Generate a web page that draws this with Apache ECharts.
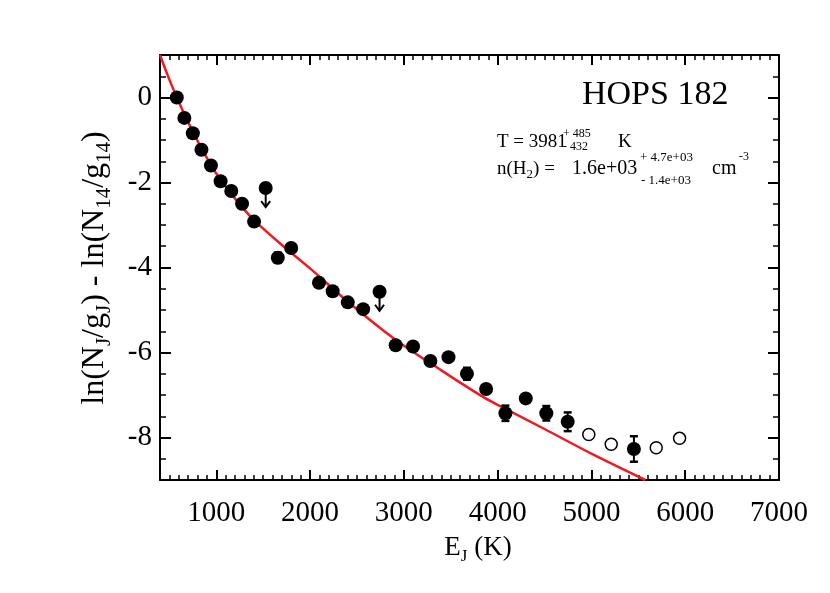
<!DOCTYPE html>
<html>
<head>
<meta charset="utf-8">
<script src="https://cdn.jsdelivr.net/npm/echarts@6/dist/echarts.min.js"></script>
<style>
  html, body { margin: 0; padding: 0; background: #fff; }
  #chart { width: 830px; height: 593px; }
</style>
</head>
<body>
<div id="chart"></div>
<script>
// detections (filled circles), E_J in K
var detE   = [579, 660, 750, 842, 943, 1046, 1160, 1275, 1403, 1656, 1799, 2095, 2241, 2402, 2566, 2913, 3098, 3283, 3476, 3673, 3877, 4083, 4300, 4519, 4747, 5453];
var detY   = [0.00, -0.48, -0.84, -1.23, -1.60, -1.97, -2.20, -2.50, -2.92, -3.77, -3.54, -4.36, -4.56, -4.82, -4.98, -5.83, -5.86, -6.20, -6.11, -6.50, -6.86, -7.43, -7.08, -7.43, -7.63, -8.27];
var detErr = [0.03, 0.03, 0.03, 0.03, 0.03, 0.03, 0.03, 0.03, 0.03, 0.12, 0.04, 0.04, 0.04, 0.04, 0.04, 0.05, 0.09, 0.05, 0.05, 0.14, 0.06, 0.18, 0.06, 0.17, 0.22, 0.30];
// upper limits (circle + down arrow)
var limE = [1527, 2741];
var limY = [-2.13, -4.57];
// open circles
var openE = [4972, 5211, 5691, 5940];
var openY = [-7.93, -8.16, -8.24, -8.02];
// model curve
var fitE = [400, 500, 600, 700, 800, 900, 1000, 1200, 1400, 1700, 2000, 2400, 2900, 3400, 3826, 4000, 4500, 5000, 5575];
var fitY = [1.00, 0.42, -0.10, -0.58, -1.02, -1.42, -1.79, -2.38, -2.88, -3.47, -4.02, -4.80, -5.68, -6.42, -7.02, -7.23, -7.80, -8.38, -9.00];

var xTicks = [1000, 2000, 3000, 4000, 5000, 6000, 7000];
var yTicks = [-8, -6, -4, -2, 0];

var serif = 'Liberation Serif';
var black = '#000';
var red = '#ed1c24';

function zip(a, b, c) {
  return a.map(function (v, i) { return c ? [v, b[i], c[i]] : [v, b[i]]; });
}

function xAx(pos, major) {
  return {
    type: 'value', position: pos, min: 400, max: 7000,
    interval: major ? undefined : 100,
    axisLine: { show: !major, onZero: false, lineStyle: { color: black, width: 2 } },
    axisTick: major
      ? { inside: true, length: 10, customValues: xTicks, lineStyle: { color: black, width: 2 } }
      : { inside: true, length: 5, lineStyle: { color: black, width: 1.5 } },
    axisLabel: (pos === 'bottom' && !major)
      ? { customValues: xTicks, margin: 19, fontFamily: serif, fontSize: 29, color: black,
          formatter: function (v) { return String(v); } }
      : { show: false },
    splitLine: { show: false }
  };
}

function yAx(pos, major) {
  return {
    type: 'value', position: pos, min: -9, max: 1,
    interval: major ? undefined : 0.5,
    axisLine: { show: !major, onZero: false, lineStyle: { color: black, width: 2 } },
    axisTick: major
      ? { inside: true, length: 11, customValues: yTicks, lineStyle: { color: black, width: 2 } }
      : { inside: true, length: 6, lineStyle: { color: black, width: 1.5 } },
    axisLabel: (pos === 'left' && !major)
      ? { customValues: yTicks, margin: 8, fontFamily: serif, fontSize: 29, color: black,
          formatter: function (v) { return String(v); } }
      : { show: false },
    splitLine: { show: false }
  };
}

var chart = echarts.init(document.getElementById('chart'), null, { renderer: 'canvas' });

function label(text, x, baseline, size) {
  return {
    type: 'text', x: x, y: baseline - 0.28 * size,
    style: { text: text, fontFamily: serif, fontSize: size, fill: black, verticalAlign: 'middle' }
  };
}

chart.setOption({
  backgroundColor: '#fff',
  animation: false,
  grid: { left: 160, right: 51, top: 55, bottom: 113 },
  xAxis: [xAx('bottom', false), xAx('bottom', true), xAx('top', false), xAx('top', true)],
  yAxis: [yAx('left', false), yAx('left', true), yAx('right', false), yAx('right', true)],
  series: [
    {
      type: 'line', data: zip(fitE, fitY), smooth: 0.3, showSymbol: false,
      lineStyle: { color: red, width: 2.5 }, z: 2
    },
    {
      type: 'custom', data: zip(detE, detY, detErr), z: 3,
      renderItem: function (params, api) {
        var x = api.value(0), y = api.value(1), e = api.value(2);
        var t = api.coord([x, y + e]), b = api.coord([x, y - e]);
        return { type: 'group', children: [
          { type: 'line', shape: { x1: t[0], y1: t[1], x2: b[0], y2: b[1] }, style: { stroke: black, lineWidth: 2 } },
          { type: 'line', shape: { x1: t[0] - 4, y1: t[1], x2: t[0] + 4, y2: t[1] }, style: { stroke: black, lineWidth: 2.5 } },
          { type: 'line', shape: { x1: b[0] - 4, y1: b[1], x2: b[0] + 4, y2: b[1] }, style: { stroke: black, lineWidth: 2.5 } }
        ] };
      }
    },
    {
      type: 'custom', data: zip(limE, limY), z: 3,
      renderItem: function (params, api) {
        var c = api.coord([api.value(0), api.value(1)]);
        var s = { stroke: black, lineWidth: 2, fill: null };
        return { type: 'group', children: [
          { type: 'line', shape: { x1: c[0], y1: c[1], x2: c[0], y2: c[1] + 19 }, style: s },
          { type: 'polyline', shape: { points: [[c[0] - 4.5, c[1] + 13], [c[0], c[1] + 19], [c[0] + 4.5, c[1] + 13]] }, style: s }
        ] };
      }
    },
    {
      type: 'scatter', data: zip(detE, detY), symbol: 'circle', symbolSize: 14,
      itemStyle: { color: black, opacity: 1 }, z: 4
    },
    {
      type: 'scatter', data: zip(limE, limY), symbol: 'circle', symbolSize: 14,
      itemStyle: { color: black, opacity: 1 }, z: 4
    },
    {
      type: 'scatter', data: zip(openE, openY), symbol: 'circle', symbolSize: 12,
      itemStyle: { color: '#fff', borderColor: black, borderWidth: 1.5, opacity: 1 }, z: 4
    }
  ],
  graphic: [
    // y axis title
    {
      type: 'text', x: 95, y: 268, rotation: Math.PI / 2,
      style: {
        text: 'ln(N{s|J}/g{s|J}) - ln(N{s|14}/g{s|14})',
        fontFamily: serif, fontSize: 32, fill: black, align: 'center', verticalAlign: 'middle',
        lineHeight: 40,
        rich: {
          s: { fontFamily: serif, fontSize: 21, lineHeight: 20, verticalAlign: 'bottom', fill: black }
        }
      }
    },
    // x axis title
    {
      type: 'text', x: 478, y: 548,
      style: {
        text: 'E{s|J} (K)',
        fontFamily: serif, fontSize: 27, fill: black, align: 'center', verticalAlign: 'middle',
        lineHeight: 34,
        rich: {
          s: { fontFamily: serif, fontSize: 17, lineHeight: 16, verticalAlign: 'bottom', fill: black }
        }
      }
    },
    label('HOPS 182', 582, 105, 34),
    label('T = 3981', 497, 147, 19),
    label('+ 485', 563, 137, 12),
    label('- 432', 563, 150, 12),
    label('K', 618, 147, 19),
    {
      type: 'text', x: 497, y: 174 - 5.3,
      style: {
        text: 'n(H{s|2}) =', fontFamily: serif, fontSize: 19, fill: black, verticalAlign: 'middle',
        lineHeight: 24,
        rich: { s: { fontFamily: serif, fontSize: 13, lineHeight: 12, verticalAlign: 'bottom', fill: black } }
      }
    },
    label('1.6e+03', 572, 174, 20),
    label('+ 4.7e+03', 640, 161, 13),
    label('- 1.4e+03', 641, 184, 13),
    label('cm', 712, 174, 20),
    label('-3', 739, 160, 12)
  ]
});
</script>
</body>
</html>
